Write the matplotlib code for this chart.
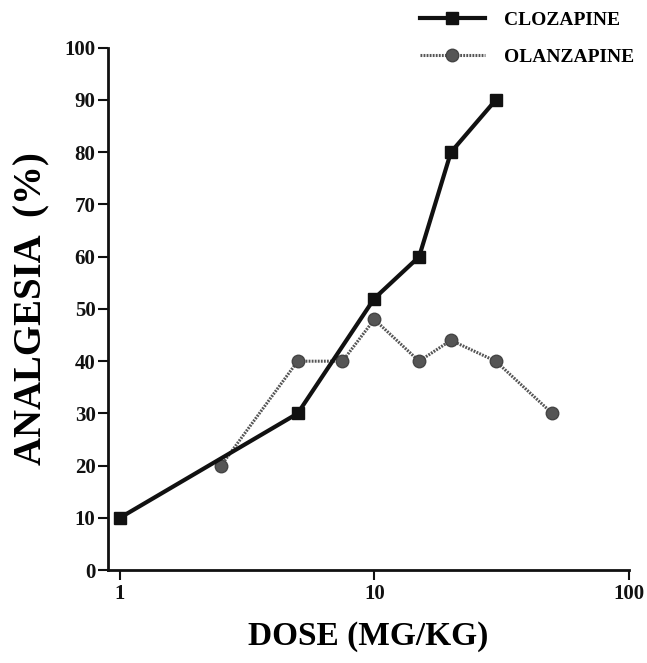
import numpy as np
import matplotlib.pyplot as plt
from matplotlib.ticker import FixedLocator, NullLocator

# dados
doses_cloz = [1, 5, 10, 15, 20, 30]
analg_cloz = [10, 30, 52, 60, 80, 90]

doses_olan = [2.5, 5, 7.5, 10, 15, 20, 30, 50]
analg_olan = [20, 40, 40, 48, 40, 44, 40, 30]

xticks = [1, 10, 100]
yticks = [0, 10, 20, 30, 40, 50, 60, 70, 80, 90, 100]

plt.rcParams['font.family'] = ['Liberation Serif', 'DejaVu Serif']
plt.rcParams['font.weight'] = 'bold'

fig = plt.figure(figsize=(6.47, 6.63), dpi=100)
ax = fig.add_axes([0.167, 0.140, 0.805, 0.788])

ax.plot(doses_cloz, analg_cloz, color='#111111', lw=3, marker='s', ms=8.5,
        label='CLOZAPINE', zorder=3)
ax.plot(doses_olan, analg_olan, color='#555555', lw=2.2, ls=(0, (0.6, 0.4)),
        marker='o', ms=9, mfc='#555555', mec='#444444', label='OLANZAPINE', zorder=2)

ax.set_xscale('log')
ax.set_xlim(0.9, 100)
ax.set_ylim(0, 100)
ax.xaxis.set_major_locator(FixedLocator(xticks))
ax.xaxis.set_minor_locator(NullLocator())
ax.set_xticklabels([str(t) for t in xticks])
ax.set_yticks(yticks)

for s in ['top', 'right']:
    ax.spines[s].set_visible(False)
for s in ['left', 'bottom']:
    ax.spines[s].set_linewidth(2)
    ax.spines[s].set_color('#111111')

ax.tick_params(axis='both', direction='out', length=7, width=1.5,
               labelsize=15, colors='#111111')
ax.tick_params(axis='x', pad=3)
ax.tick_params(axis='y', pad=2)
for lab in ax.get_xticklabels() + ax.get_yticklabels():
    lab.set_fontweight('bold')

ax.set_xlabel('DOSE (MG/KG)', fontsize=24, fontweight='bold', labelpad=12)
ax.set_ylabel('ANALGESIA  (%)', fontsize=28, fontweight='bold', labelpad=10)

leg = ax.legend(loc='upper right', bbox_to_anchor=(1.025, 1.085), frameon=False,
                fontsize=14, handlelength=3.3, labelspacing=1.0, handletextpad=1.0,
                borderaxespad=0)
for t in leg.get_texts():
    t.set_fontweight('bold')

plt.savefig('out.png', dpi=100)
